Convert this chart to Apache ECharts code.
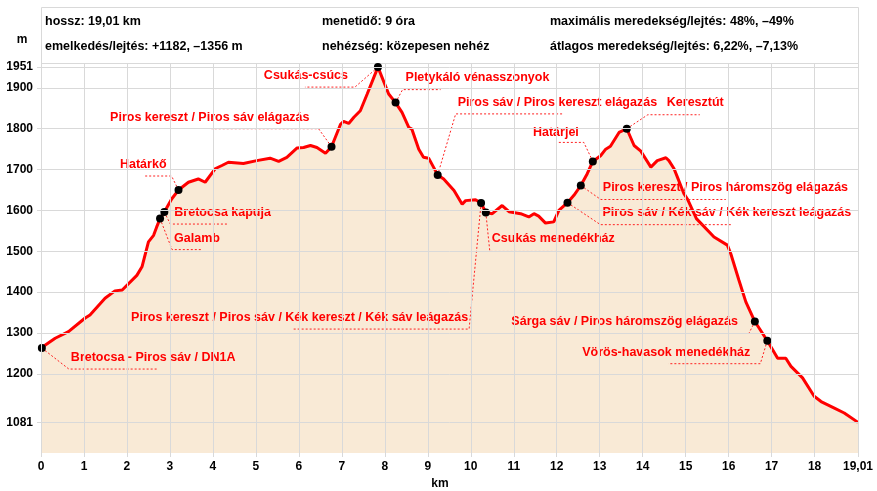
<!DOCTYPE html>
<html><head><meta charset="utf-8">
<script src="https://cdn.jsdelivr.net/npm/echarts@6/dist/echarts.min.js"></script>
<style>html,body{margin:0;padding:0;background:#fff}#c{width:877px;height:491px}</style>
</head><body><div id="c"></div>
<script>
// ---- data ----
const profileKm = [0,0.33,0.64,1.02,1.14,1.49,1.72,1.89,2.23,2.35,2.50,2.62,2.69,2.77,2.87,3.04,3.20,3.43,3.66,3.82,4.05,4.21,4.36,4.71,5.02,5.33,5.53,5.72,5.96,6.11,6.27,6.42,6.62,6.76,6.97,7.04,7.16,7.28,7.43,7.59,7.84,8.09,8.25,8.40,8.56,8.63,8.79,8.90,9.02,9.23,9.37,9.61,9.80,9.88,10.11,10.24,10.35,10.50,10.73,10.89,11.16,11.35,11.47,11.58,11.74,11.93,12.05,12.25,12.40,12.56,12.71,12.84,13.02,13.14,13.25,13.45,13.63,13.80,13.95,14.19,14.34,14.54,14.61,14.73,14.81,14.96,15.04,15.25,15.66,15.97,16.05,16.24,16.40,16.61,16.90,17.14,17.33,17.45,17.72,17.99,18.15,18.46,18.69,19.01];
const profileElev = [1263,1287,1303,1336,1344,1385,1403,1405,1441,1462,1523,1539,1559,1580,1596,1628,1650,1669,1677,1669,1702,1710,1718,1715,1722,1728,1720,1730,1753,1754,1759,1754,1740,1756,1811,1818,1813,1828,1844,1885,1951,1885,1864,1840,1803,1799,1750,1730,1728,1687,1677,1649,1615,1624,1626,1618,1595,1592,1612,1597,1592,1584,1592,1586,1569,1572,1600,1619,1637,1661,1690,1720,1734,1750,1757,1791,1800,1759,1746,1706,1722,1729,1722,1702,1681,1641,1628,1580,1535,1515,1494,1429,1376,1328,1281,1238,1238,1218,1190,1145,1132,1116,1104,1081];
const yTicks = [1081,1200,1300,1400,1500,1600,1700,1800,1900,1951];
const xTicks = [0,1,2,3,4,5,6,7,8,9,10,11,12,13,14,15,16,17,18,19.01];
const poiNames = ["Bretocsa - Piros sáv / DN1A","Galamb","Bretocsa kapuja","Határkő","Piros kereszt / Piros sáv elágazás","Csukás-csúcs","Pletykáló vénasszonyok","Piros sáv / Piros kereszt elágazás","Piros kereszt / Piros sáv / Kék kereszt / Kék sáv leágazás","Csukás menedékház","Piros sáv / Kék sáv / Kék kereszt leágazás","Piros kereszt / Piros háromszög elágazás","Határjel","Keresztút","Sárga sáv / Piros háromszög elágazás","Vörös-havasok menedékház"];
const poiKm = [0.02,2.77,2.87,3.20,6.76,7.84,8.25,9.23,10.24,10.35,12.25,12.56,12.84,13.63,16.61,16.90];
const poiElev = [1263,1580,1596,1650,1756,1951,1864,1687,1618,1595,1619,1661,1720,1800,1328,1281];
const headerLeft = ["hossz: 19,01 km","emelkedés/lejtés: +1182, –1356 m"];
const headerMid = ["menetidő: 9 óra","nehézség: közepesen nehéz"];
const headerRight = ["maximális meredekség/lejtés: 48%, –49%","átlagos meredekség/lejtés: 6,22%, –7,13%"];

// ---- layout (pixel offsets of leader lines and labels relative to each point) ----
const poiLayout = [
  {ex:27,ey:21,ul:89,tx:29,ty:9,align:'left'},
  {ex:12,ey:31,ul:30,tx:14,ty:20,align:'left'},
  {ex:6,ey:12,ul:57,tx:10,ty:0,align:'left'},
  {ex:-7,ey:-14,ul:-28,tx:-12,ty:-25,align:'right'},
  {ex:-13,ey:-18,ul:-107,tx:-22,ty:-29,align:'right'},
  {ex:-23,ey:20,ul:-50,tx:-30,ty:8,align:'right'},
  {ex:7,ey:-13,ul:38,tx:10,ty:-25,align:'left'},
  {ex:18,ey:-61,ul:108,tx:20,ty:-72,align:'left'},
  {ex:-12,ey:126,ul:-177,tx:-13,ty:114,align:'right'},
  {ex:4,ey:39,ul:69,tx:6,ty:26,align:'left'},
  {ex:33,ey:22,ul:132,tx:35,ty:10,align:'left'},
  {ex:20,ey:14,ul:125,tx:22,ty:2,align:'left'},
  {ex:-9,ey:-19,ul:-27,tx:-14,ty:-29,align:'right'},
  {ex:21,ey:-14,ul:52,tx:40,ty:-26,align:'left'},
  {ex:-6,ey:12,ul:-122,tx:-17,ty:0,align:'right'},
  {ex:-7,ey:23,ul:-92,tx:-17,ty:12,align:'right'}
];

const FONT = '"Liberation Sans", Arial, sans-serif';
const GRID = '#d9d9d9';
const profile = profileKm.map((k,i)=>[k, profileElev[i]]);
const poiData = poiKm.map((k,i)=>[k, poiElev[i]]);
const fmt = v => String(v).replace('.', ',');

const chart = echarts.init(document.getElementById('c'), null, {renderer:'canvas'});
chart.setOption({
  animation:false,
  backgroundColor:'#fff',
  grid:{left:41, right:19, top:63, bottom:38, containLabel:false},
  xAxis:{type:'value', min:0, max:19.01,
    axisLine:{show:false}, splitLine:{show:false},
    axisTick:{show:true, customValues:xTicks, length:4, lineStyle:{color:GRID}},
    axisLabel:{customValues:xTicks, formatter:fmt, color:'#000', fontWeight:'bold', fontSize:12, fontFamily:FONT, margin:8}},
  yAxis:{type:'value', min:1006, max:1961,
    axisLine:{show:false}, splitLine:{show:false},
    axisTick:{show:true, customValues:yTicks, length:4, lineStyle:{color:GRID}},
    axisLabel:{customValues:yTicks, formatter:v=>String(v), color:'#000', fontWeight:'bold', fontSize:12, fontFamily:FONT, margin:8}},
  graphic:[
    {type:'rect', shape:{x:41.5, y:7.5, width:817, height:56}, style:{fill:'#fff', stroke:GRID, lineWidth:1}, z:0},
    {type:'text', x:45, y:22, style:{text:headerLeft[0], font:'bold 12.5px '+FONT, fill:'#000', verticalAlign:'middle'}},
    {type:'text', x:45, y:47, style:{text:headerLeft[1], font:'bold 12.5px '+FONT, fill:'#000', verticalAlign:'middle'}},
    {type:'text', x:322, y:22, style:{text:headerMid[0], font:'bold 12.5px '+FONT, fill:'#000', verticalAlign:'middle'}},
    {type:'text', x:322, y:47, style:{text:headerMid[1], font:'bold 12.5px '+FONT, fill:'#000', verticalAlign:'middle'}},
    {type:'text', x:550, y:22, style:{text:headerRight[0], font:'bold 12.5px '+FONT, fill:'#000', verticalAlign:'middle'}},
    {type:'text', x:550, y:47, style:{text:headerRight[1], font:'bold 12.5px '+FONT, fill:'#000', verticalAlign:'middle'}},
    {type:'text', x:22, y:40, style:{text:'m', font:'bold 12px '+FONT, fill:'#000', align:'center', verticalAlign:'middle'}},
    {type:'text', x:440, y:484, style:{text:'km', font:'bold 12px '+FONT, fill:'#000', align:'center', verticalAlign:'middle'}}
  ],
  series:[
    {type:'line', data:profile, z:1, symbol:'none', silent:true,
      lineStyle:{width:0, opacity:0}, areaStyle:{color:'#f9ead6', opacity:1, origin:'start'}},
    {type:'line', data:profile, z:2, symbol:'none', silent:true,
      lineStyle:{width:0, opacity:0},
      markLine:{silent:true, symbol:'none', label:{show:false}, animation:false,
        lineStyle:{color:GRID, type:'solid', width:1},
        data:[...yTicks.map(v=>({yAxis:v})), ...xTicks.map(v=>({xAxis:v}))]}},
    {type:'line', data:profile, z:3, symbol:'none', silent:true,
      lineStyle:{color:'#ff0000', width:3}},
    {type:'custom', data:poiData, z:4, clip:false, silent:true,
      renderItem:function(params, api){
        const i = params.dataIndex;
        const p = api.coord([api.value(0), api.value(1)]);
        const L = poiLayout[i];
        const ex = p[0]+L.ex, ey = p[1]+L.ey;
        return {type:'group', children:[
          {type:'polyline', shape:{points:[[p[0],p[1]],[ex,ey],[ex+L.ul,ey]]},
            style:{stroke:'#ff2020', lineWidth:1, lineDash:[2,2], fill:null}, z2:1},
          {type:'circle', shape:{cx:p[0], cy:p[1], r:4}, style:{fill:'#000'}, z2:2},
          {type:'text', x:p[0]+L.tx, y:p[1]+L.ty,
            style:{text:poiNames[i], fill:'#ff0000', font:'bold 12.5px '+FONT, align:L.align, verticalAlign:'middle'}, z2:3}
        ]};
      }}
  ]
});
</script></body></html>
